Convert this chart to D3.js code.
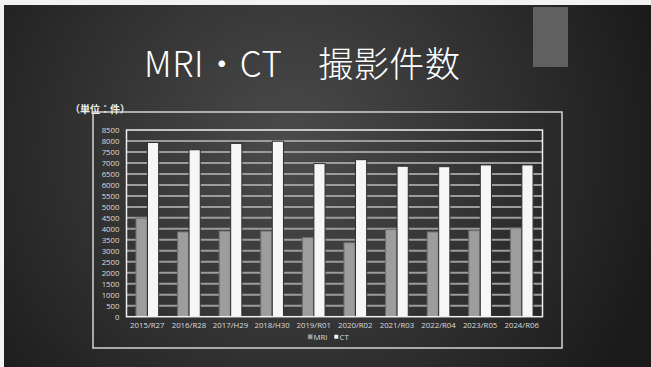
<!DOCTYPE html>
<html>
<head>
<meta charset="utf-8">
<script src="https://cdn.jsdelivr.net/npm/d3@7"></script>
<style>
  html, body { margin: 0; padding: 0; background: #f2f2f2; }
  svg { display: block; }
</style>
</head>
<body>
<svg id="chart" width="651" height="367"></svg>
<script>
// Fiscal years (Western / Japanese era)
const categories = ["2015/R27", "2016/R28", "2017/H29", "2018/H30", "2019/R01",
                    "2020/R02", "2021/R03", "2022/R04", "2023/R05", "2024/R06"];
// Exam counts per year
const mriCounts = [4490, 3860, 3900, 3900, 3610, 3370, 3980, 3860, 3920, 4040];
const ctCounts  = [7930, 7600, 7890, 7990, 6970, 7150, 6850, 6830, 6910, 6910];
const seriesNames = ["MRI", "CT"];
const yTicks = [0, 500, 1000, 1500, 2000, 2500, 3000, 3500, 4000, 4500,
                5000, 5500, 6000, 6500, 7000, 7500, 8000, 8500];

const svg = d3.select("#chart");
const W = 651, H = 367;

// slide background
const defs = svg.append("defs");
const rg = defs.append("radialGradient").attr("id", "bg")
  .attr("gradientUnits", "userSpaceOnUse")
  .attr("cx", 290).attr("cy", 150).attr("r", 380);
rg.append("stop").attr("offset", "0%").attr("stop-color", "#4b4b4b");
rg.append("stop").attr("offset", "45%").attr("stop-color", "#363636");
rg.append("stop").attr("offset", "100%").attr("stop-color", "#1b1b1b");

svg.append("rect").attr("x", 0).attr("y", 0).attr("width", W).attr("height", H).attr("fill", "#f2f2f2");
svg.append("rect").attr("x", 4).attr("y", 5).attr("width", W - 4).attr("height", H - 5).attr("fill", "url(#bg)");

// accent block
svg.append("rect").attr("x", 533).attr("y", 7).attr("width", 35).attr("height", 60).attr("fill", "#606060");

// title
svg.append("text")
  .attr("x", 144).attr("y", 77)
  .attr("fill", "#ffffff")
  .attr("font-family", "'Noto Sans CJK JP', 'Noto Sans', sans-serif")
  .attr("font-weight", 300)
  .attr("font-size", 35)
  .attr("letter-spacing", 0.6)
  .text("MRI・CT\u3000撮影件数");

// chart frame
svg.append("rect").attr("x", 93).attr("y", 112).attr("width", 469).attr("height", 236)
  .attr("fill", "none").attr("stroke", "#d4d4d4").attr("stroke-width", 1.5);

svg.append("text")
  .attr("x", 70).attr("y", 113)
  .attr("fill", "#eeeeee")
  .attr("font-family", "'Noto Sans CJK JP', sans-serif")
  .attr("font-weight", 700)
  .attr("font-size", 10)
  .text("（単位：件）");

const plot = { left: 126.5, right: 542.5, top: 130, bottom: 316.7 };

const x = d3.scaleBand().domain(categories).range([plot.left, plot.right]).paddingInner(0).paddingOuter(0);
const x1 = d3.scaleBand().domain(seriesNames).range([0, x.bandwidth()]).paddingInner(0.03).paddingOuter(0.82);
const y = d3.scaleLinear().domain([0, 8500]).range([plot.bottom, plot.top]);

// gridlines
svg.append("g").selectAll("line").data(yTicks.filter(d => d > 0 && d < 8500)).join("line")
  .attr("x1", plot.left).attr("x2", plot.right)
  .attr("y1", d => y(d)).attr("y2", d => y(d))
  .attr("stroke", "#9c9c9c").attr("stroke-width", 2);

// bars
const data = categories.map((c, i) => ({ cat: c, values: [
  { key: "MRI", v: mriCounts[i] }, { key: "CT", v: ctCounts[i] }] }));
const colors = { MRI: "#9d9d9d", CT: "#f6f6f6" };
const strokes = { MRI: "#6b6b6b", CT: "#2e2e2e" };

svg.append("g").selectAll("g").data(data).join("g")
  .attr("transform", d => `translate(${x(d.cat)},0)`)
  .selectAll("rect").data(d => d.values).join("rect")
  .attr("x", d => x1(d.key)).attr("width", x1.bandwidth())
  .attr("y", d => y(d.v)).attr("height", d => y(0) - y(d.v))
  .attr("fill", d => colors[d.key]).attr("stroke", d => strokes[d.key]).attr("stroke-width", 1);

// plot border
svg.append("rect").attr("x", plot.left).attr("y", plot.top)
  .attr("width", plot.right - plot.left).attr("height", plot.bottom - plot.top)
  .attr("fill", "none").attr("stroke", "#f0f0f0").attr("stroke-width", 1.5);

const tickFont = "'Open Sans', 'DejaVu Sans', sans-serif";

// y axis
const yAxis = svg.append("g").attr("transform", `translate(${plot.left},0)`)
  .call(d3.axisLeft(y).tickValues(yTicks).tickFormat(d3.format("d")).tickSize(0).tickPadding(7));
yAxis.select(".domain").remove();
yAxis.selectAll("text").attr("fill", "#dcdcdc").attr("font-family", tickFont).attr("font-size", 7.8);

// x axis
const xAxis = svg.append("g").attr("transform", `translate(0,${plot.bottom})`)
  .call(d3.axisBottom(x).tickSize(0).tickPadding(6));
xAxis.select(".domain").remove();
xAxis.selectAll("text").attr("fill", "#dcdcdc").attr("font-family", tickFont).attr("font-size", 7.8);

// legend
const legend = svg.append("g").attr("font-family", tickFont).attr("font-size", 7.8).attr("fill", "#dcdcdc");
const legendX = [308, 334];
seriesNames.forEach((s, i) => {
  legend.append("rect").attr("x", legendX[i]).attr("y", 334.5).attr("width", 4.5).attr("height", 4.5)
    .attr("fill", colors[s]).attr("stroke", strokes[s]).attr("stroke-width", 0.5);
  legend.append("text").attr("x", legendX[i] + 5.5).attr("y", 340).text(s);
});
</script>
</body>
</html>
